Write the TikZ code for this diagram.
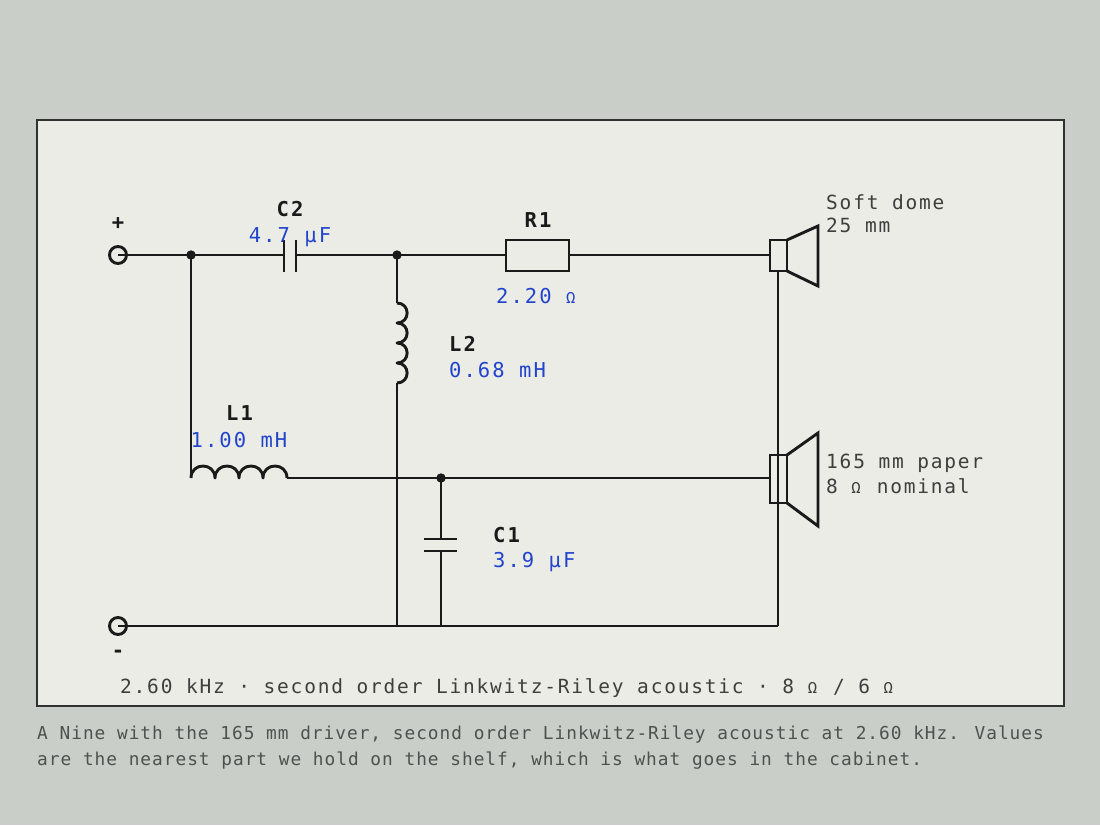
\documentclass[tikz,border=0pt]{standalone}
\usepackage{fontspec}
\setmainfont{DejaVu Sans Mono}
\newfontfamily\valfont[LetterSpace=10]{DejaVu Sans Mono}
\newfontfamily\annfont[LetterSpace=9.2]{DejaVu Sans Mono}
\newfontfamily\capfont[LetterSpace=5.5]{DejaVu Sans Mono}
\newsavebox\ohmcell
\newcommand\myohm{\sbox\ohmcell{0}\makebox[\wd\ohmcell][l]{\fontsize{15.5}{15.5}\selectfont Ω}}
\definecolor{outerbg}{RGB}{201,206,200}
\definecolor{panelbg}{RGB}{235,236,230}
\definecolor{ink}{RGB}{26,26,26}
\definecolor{valblue}{RGB}{34,68,204}
\definecolor{anngray}{RGB}{62,62,60}
\definecolor{capgray}{RGB}{78,82,78}
\begin{document}
\begin{tikzpicture}[x=1pt,y=-1pt,
  wire/.style={draw=ink,line width=2.9pt},
  part/.style={draw=ink,line width=2.9pt,line join=miter},
  dotj/.style={fill=ink},
  lbl/.style={anchor=base,inner sep=0pt,text=ink,font=\valfont\bfseries\fontsize{20.5}{24}\selectfont},
  val/.style={anchor=base,inner sep=0pt,text=valblue,font=\valfont\fontsize{20.5}{24}\selectfont},
  ann/.style={anchor=base west,inner sep=0pt,text=anngray,font=\annfont\fontsize{19.5}{22}\selectfont},
  captext/.style={anchor=base west,inner sep=0pt,text=capgray,font=\capfont\fontsize{17.8}{22}\selectfont}]
% background and panel
\fill[outerbg] (0,0) rectangle (1100,825);
\draw[fill=panelbg,draw=ink!90,line width=1.5pt] (37,120) rectangle (1064,706);

% coordinates
\coordinate (tp) at (118,255);
\coordinate (tm) at (118,626);
\coordinate (j1) at (191,255);
\coordinate (j2) at (397,255);
\coordinate (j3) at (441,478);
\coordinate (c2a) at (284,255);
\coordinate (c2b) at (296,255);
\coordinate (r1a) at (506,255);
\coordinate (r1b) at (569,255);
\coordinate (twin) at (770,255);
\coordinate (twbot) at (778,271);
\coordinate (gndr) at (778,626);
\coordinate (l1top) at (191,478);
\coordinate (l1end) at (287,478);
\coordinate (wfin) at (770,478);
\coordinate (l2top) at (397,303);
\coordinate (l2end) at (397,383);
\coordinate (l2gnd) at (397,626);
\coordinate (c1a) at (441,539);
\coordinate (c1b) at (441,551);
\coordinate (c1gnd) at (441,626);

% wires
\draw[wire] (tp) -- (j1) -- (c2a);
\draw[wire] (c2b) -- (j2) -- (r1a);
\draw[wire] (r1b) -- (twin);
\draw[wire] (twbot) -- (gndr);
\draw[wire] (tm) -- (gndr);
\draw[wire] (j1) -- (l1top);
\draw[wire] (l1end) -- (wfin);
\draw[wire] (j2) -- (l2top);
\draw[wire] (l2end) -- (l2gnd);
\draw[wire] (j3) -- (c1a);
\draw[wire] (c1b) -- (c1gnd);

% C2
\draw[part] (284,240) -- (284,272);
\draw[part] (296,240) -- (296,272);
% C1
\draw[part] (424,539) -- (457,539);
\draw[part] (424,551) -- (457,551);
% R1
\draw[part,fill=panelbg] (506,240) rectangle (569,271);
% L1 coil
\draw[part,line join=round] (l1top)
  \foreach \i in {0,1,2,3} { .. controls ({191+24*\i},462) and ({215+24*\i},462) .. ({215+24*\i},478) };
% L2 coil
\draw[part,line join=round] (l2top)
  \foreach \i in {0,1,2,3} { .. controls (410.5,{303+20*\i}) and (410.5,{323+20*\i}) .. (397,{323+20*\i}) };

% tweeter
\draw[part,fill=panelbg] (770,240) rectangle (787,271);
\draw[part] (787,240) -- (818,226) -- (818,286) -- (787,271);
% woofer
\draw[part] (770,455) rectangle (787,503);
\draw[part] (787,455) -- (818,433) -- (818,526) -- (787,503);

% junction dots
\fill[dotj] (j1) circle (4.7);
\fill[dotj] (j2) circle (4.7);
\fill[dotj] (j3) circle (4.7);

% terminals
\node[circle,draw=ink,line width=2.9pt,fill=panelbg,minimum size=17pt,inner sep=0pt] (plus) at (tp) {};
\node[circle,draw=ink,line width=2.9pt,fill=panelbg,minimum size=17pt,inner sep=0pt] (minus) at (tm) {};
\draw[wire] (plus.center) -- (plus.east);
\draw[wire] (minus.center) -- (minus.east);
\node[lbl,anchor=center] (plab) at (118,224) {+};
\node[lbl,anchor=center] (mlab) at (118,654) {-};

% labels
\node[lbl] (c2lbl) at (290,216) {C2};
\node[val] (c2val) at (290,242) {4.7 μF};
\node[lbl] (r1lbl) at (538,227) {R1};
\node[val,anchor=base west] (r1val) at (496,303) {2.20 \myohm};
\node[lbl,anchor=base west] (l2lbl) at (449,351) {L2};
\node[val,anchor=base west] (l2val) at (449,377) {0.68 mH};
\node[lbl] (l1lbl) at (239.5,420) {L1};
\node[val] (l1val) at (239,447) {1.00 mH};
\node[lbl,anchor=base west] (c1lbl) at (493,542) {C1};
\node[val,anchor=base west] (c1val) at (493,567) {3.9 μF};

% driver notes
\node[ann] (tw1) at (826,209) {Soft dome};
\node[ann] (tw2) at (826,232) {25 mm};
\node[ann] (wf1) at (826,468) {165 mm paper};
\node[ann] (wf2) at (826,493) {8 \myohm{} nominal};

% footer and caption
\node[ann] (foot) at (120,693) {2.60 kHz · second order Linkwitz-Riley acoustic · 8 \myohm{} / 6 \myohm};
\node[captext] (cap1) at (37,739) {A Nine with the 165 mm driver, second order Linkwitz-Riley acoustic at 2.60 kHz. Values};
\node[captext] (cap2) at (37,765) {are the nearest part we hold on the shelf, which is what goes in the cabinet.};
\end{tikzpicture}
\end{document}
